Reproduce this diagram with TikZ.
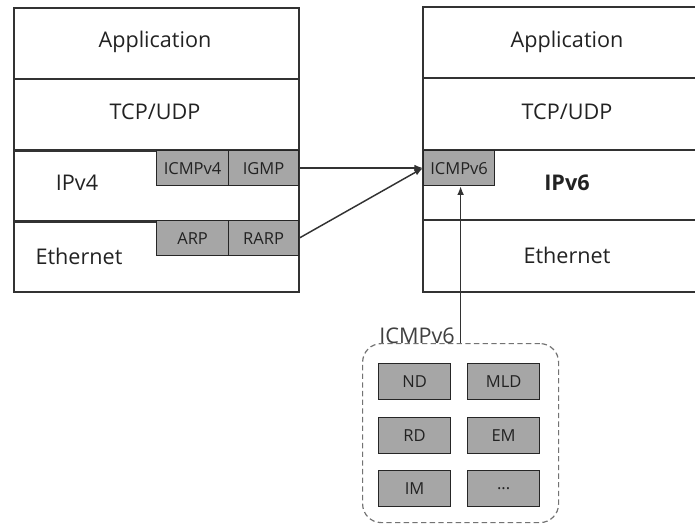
\documentclass[tikz,border=0pt]{standalone}
\usepackage{fontspec}
\setmainfont{Open Sans}
\usetikzlibrary{arrows.meta}
\definecolor{cellgray}{RGB}{166,166,166}
\definecolor{ink}{RGB}{34,34,34}
\definecolor{edge}{RGB}{50,50,50}
\begin{document}
\begin{tikzpicture}[x=0.75pt,y=-0.75pt,
  every node/.style={text=ink, font=\fontsize{16.2}{19}\selectfont},
  frame/.style={draw=edge, line width=1.2pt},
  layer/.style={frame, anchor=north west, minimum width=213.75pt, minimum height=53.25pt, inner sep=0pt},
  cell/.style={draw=black!85, line width=0.9pt, fill=cellgray, anchor=north west, inner sep=0pt,
    minimum height=26.25pt, font=\fontsize{12.4}{14}\selectfont},
  cellwide/.style={cell, minimum width=54pt},
  cellnarrow/.style={cell, minimum width=52.5pt},
  item/.style={cell, minimum width=54pt, minimum height=27pt},
  link/.style={draw=edge, line width=1.1pt, -{Latex[length=6.5pt,width=5pt]}},
  group/.style={draw=black!55, dash pattern=on 4pt off 2.5pt, line width=0.9pt, rounded corners=14pt,
    anchor=north west, minimum width=147pt, minimum height=134.25pt, inner sep=0pt}]
\useasboundingbox (0,0) rectangle (695,524);

% left protocol stack (IPv4)
\node[layer] (app4) at (13,7) {};
\node[layer] (tcp4) at (13,78) {};
\node[layer] (net4) at (13,150) {};
\node[layer] (eth4) at (13,220) {};
\node (app4t) at (155,42) {Application};
\node (tcp4t) at (155,112) {TCP/UDP};
\node (net4t) at (77,183) {IPv4};
\node (eth4t) at (79,256) {Ethernet};
\node[cellwide] (icmp4) at (156,150) {ICMPv4};
\node[cellnarrow] (igmp) at (228,150) {IGMP};
\node[cellwide] (arp) at (156,220) {ARP};
\node[cellnarrow] (rarp) at (228,220) {RARP};

% right protocol stack (IPv6), open on the right side
\draw[frame] (700,7) -- (423,7) -- (423,292) -- (700,292);
\draw[frame] (423,78) -- (700,78);
\draw[frame] (423,150) -- (700,150);
\draw[frame] (423,220) -- (700,220);
\node (app6t) at (567,42) {Application};
\node (tcp6t) at (567,112) {TCP/UDP};
\node[font=\fontsize{16.2}{19}\selectfont\bfseries] (net6t) at (567,183) {IPv6};
\node (eth6t) at (567,255) {Ethernet};
\node[cell, minimum width=53.25pt] (icmp6) at (423,150) {ICMPv6};
\coordinate (icmp6in) at (423,168);

% ICMPv6 message group
\node[group] (grp) at (362,343) {};
\node[anchor=base east, inner sep=0pt, text=black!75] (grpt) at (455,343) {ICMPv6};
\node[item] (nd) at (378,363) {ND};
\node[item] (mld) at (467,363) {MLD};
\node[item] (rd) at (378,417) {RD};
\node[item] (em) at (467,417) {EM};
\node[item] (im) at (378,470) {IM};
\node[item] (more) at (467,470) {...};

% connectors
\draw[link] (igmp.east |- icmp6in) -- (icmp6in);
\draw[link] (rarp.east) -- (icmp6in);
\draw[link] (grp.north) -- (grp.north |- icmp6.south);
\end{tikzpicture}
\end{document}
